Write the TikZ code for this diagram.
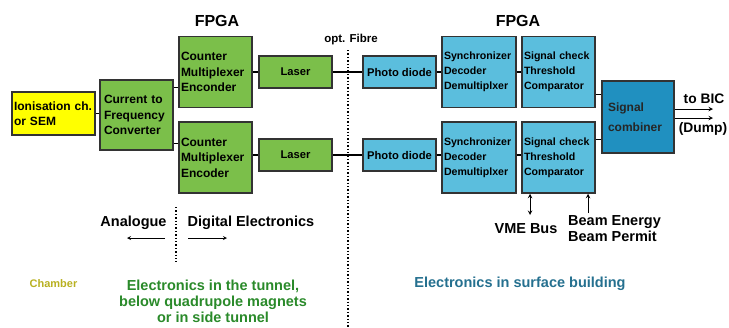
\documentclass[tikz,border=0pt]{standalone}
\usepackage{fontspec}
\setmainfont{Liberation Sans}
\definecolor{fpgagreen}{HTML}{7BBF4A}
\definecolor{pdblue}{HTML}{5BBEDD}
\definecolor{combblue}{HTML}{2090C0}
\definecolor{ionyellow}{HTML}{FFFF00}
\definecolor{chambertxt}{HTML}{B8B020}
\definecolor{tunneltxt}{HTML}{2A8A2A}
\definecolor{surfacetxt}{HTML}{25708F}
\newcommand{\lfont}{\fontsize{12}{15.5}\selectfont\bfseries}
\newcommand{\rfont}{\fontsize{10.6}{15}\selectfont\bfseries}
\newcommand{\mfont}{\fontsize{11.2}{14}\selectfont\bfseries}
\newcommand{\bigfont}{\fontsize{14.5}{16}\selectfont\bfseries}

\begin{document}
\begin{tikzpicture}[x=1pt,y=-1pt,line width=1.2pt,>=stealth,
  blk/.style={draw=black!80,line width=1.5pt,inner sep=2pt,align=left},
  gbox/.style={blk,fill=fpgagreen,font=\lfont},
  bbox/.style={blk,fill=pdblue,font=\rfont},
  tall/.style={minimum height=71pt,text width=69pt},
  flat/.style={minimum height=32pt,minimum width=73pt,align=center,font=\mfont},
  lbl/.style={font=\bigfont,align=center}]
\useasboundingbox (0,0) rectangle (729,327);
% tunnel side
\node[blk,fill=ionyellow,font=\lfont,text width=79pt,minimum height=43pt] (ion) at (53.5,113.5) {Ionisation ch.\\or SEM};
\node[gbox,text width=65pt,inner xsep=4pt,minimum height=70pt] (cfc) at (136.5,115) {Current to\\Frequency\\Converter};
\node[gbox,tall] (cnt1) at (215.5,72) {Counter\\Multiplexer\\Enconder};
\node[gbox,tall] (cnt2) at (215.5,157.5) {Counter\\Multiplexer\\Encoder};
\node[gbox,flat] (las1) at (295.5,72) {Laser};
\node[gbox,flat] (las2) at (295.5,155) {Laser};
% surface side
\node[bbox,flat] (pd1) at (399.5,72) {Photo diode};
\node[bbox,flat] (pd2) at (399.5,155) {Photo diode};
\node[bbox,tall,text width=70pt] (syn1) at (479,72) {Synchronizer\\Decoder\\Demultiplxer};
\node[bbox,tall,text width=70pt] (syn2) at (479,157.5) {Synchronizer\\Decoder\\Demultiplxer};
\node[bbox,tall] (chk1) at (558.5,72) {Signal check\\Threshold\\Comparator};
\node[bbox,tall] (chk2) at (558.5,157.5) {Signal check\\Threshold\\Comparator};
\node[blk,fill=combblue,font=\lfont,text=black!85,text width=60pt,inner xsep=6pt,minimum height=72pt] (comb) at (638,117) {Signal\\[5pt]combiner};

\node[font=\fontsize{16}{18}\selectfont\bfseries] (fpga1) at (217,21) {FPGA};
\node[font=\fontsize{16}{18}\selectfont\bfseries] (fpga2) at (518,21) {FPGA};
\node[font=\fontsize{11.5}{13}\selectfont\bfseries] (fibre) at (351,40) {opt. Fibre};

\draw (ion.east) -- (ion.east -| cfc.west);
\draw ([yshift=-8pt]cfc.north east) -- ([yshift=-8pt]cfc.north east -| cnt1.west);
\draw ([yshift=7pt]cfc.south east) -- ([yshift=7pt]cfc.south east -| cnt2.west);
\draw (cnt1.east) -- (las1.west);
\draw (cnt2.east |- las2.west) -- (las2.west);
\draw (las1.east) -- (pd1.west);
\draw (las2.east) -- (pd2.west);
\draw (pd1.east) -- (syn1.west);
\draw (pd2.east) -- (syn2.west |- pd2.east);
\draw (syn1.east) -- (chk1.west);
\draw (syn2.east |- pd2.east) -- (chk2.west |- pd2.east);
\draw ([yshift=14pt]chk1.south east) -- ([yshift=14pt]chk1.south east -| comb.west);
\draw ([yshift=-18pt]chk2.north east) -- ([yshift=-18pt]chk2.north east -| comb.west);

% outputs
\coordinate (bic) at (713,109);
\coordinate (dump) at (713,118);
\draw[->,line width=1pt] (comb.east |- bic) -- (bic);
\draw[->,line width=1pt] (comb.east |- dump) -- (dump);
\node[lbl,font=\fontsize{13.8}{16}\selectfont\bfseries] (tobic) at (704,99) {to BIC};
\node[lbl,font=\fontsize{13.8}{16}\selectfont\bfseries] (dumplbl) at (703,129) {(Dump)};

% inputs of the check
\coordinate (vme) at (530,215);
\coordinate (beam) at (588,213);
\draw[<->,line width=1pt] (vme) -- (vme |- chk2.south);
\draw[->,line width=1pt] (beam) -- (beam |- chk2.south);
\node[lbl] (vmelbl) at (526,229) {VME Bus};
\node[lbl,align=left] (beamlbl) at (614.5,228.5) {Beam Energy\\Beam Permit};

% fibre boundary
\coordinate (fibtop) at (348,50);
\coordinate (fibbot) at (348,327);
\draw[dotted,line width=1.4pt] (fibtop) -- (fibbot);

% analogue / digital
\coordinate (adtop) at (176,207);
\coordinate (adbot) at (176,262);
\draw[dotted,line width=1.4pt] (adtop) -- (adbot);
\node[lbl] (ana) at (133.5,223) {Analogue};
\node[lbl] (dig) at (251,223) {Digital Electronics};
\coordinate (anaR) at (165,238);
\coordinate (anaL) at (127,238);
\coordinate (digL) at (188,238);
\coordinate (digR) at (227,238);
\draw[->,line width=0.8pt] (anaR) -- (anaL);
\draw[->,line width=0.8pt] (digL) -- (digR);

% locations
\node[font=\fontsize{11}{13}\selectfont\bfseries,text=chambertxt] (chamber) at (53.5,284) {Chamber};
\node[lbl,text=tunneltxt] (tunnel) at (213,301) {Electronics in the tunnel,\\below quadrupole magnets\\or in side tunnel};
\node[lbl,text=surfacetxt] (surface) at (520,284) {Electronics in surface building};
\end{tikzpicture}
\end{document}
